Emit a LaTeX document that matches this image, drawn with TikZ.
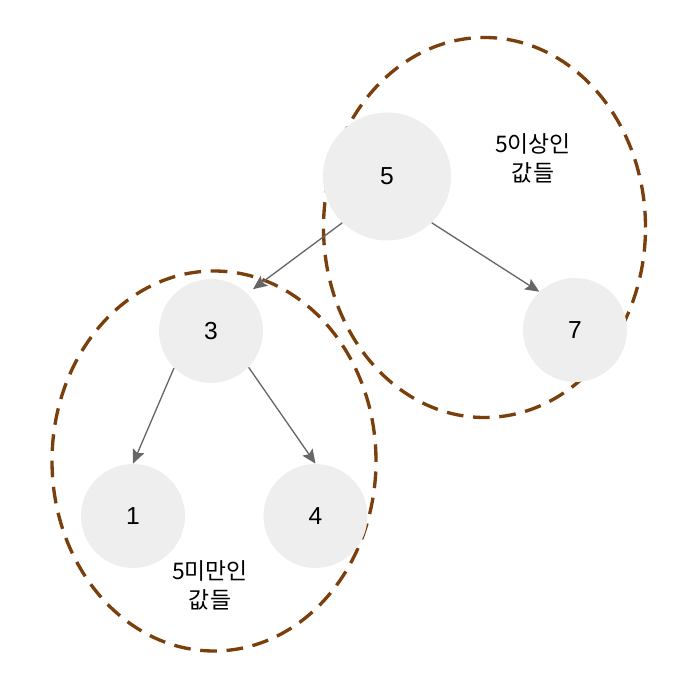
\documentclass[tikz,border=0pt]{standalone}
\usepackage{fontspec}
\setmainfont{Liberation Sans}
\newfontfamily\krfont{Noto Sans CJK KR}
\usepackage{xcolor}
\usetikzlibrary{arrows.meta, positioning}
\definecolor{C_NODE}{HTML}{EEEEEE}
\definecolor{C_EDGE}{HTML}{666666}
\definecolor{C_GRP} {HTML}{7B3F0C}
\tikzset{
  %% -- tree node --
  bst/key/.style={
    circle, fill=C_NODE, draw=none, inner sep=0pt,
    minimum size=2.08cm, font=\fontsize{14}{16}\selectfont
  },
  bst/root/.style={bst/key, minimum size=2.56cm},
  %% -- parent to child edge --
  bst/arr/.style={-{Stealth[length=8pt, width=7pt, inset=1.5pt]}, line width=0.75pt, color=C_EDGE},
  %% -- dashed grouping ring --
  bst/ring/.style={draw=C_GRP, line width=1.9pt, dash pattern=on 9.5pt off 5.5pt},
  %% -- group caption --
  bst/cap/.style={font=\krfont\fontsize{13}{16.5}\selectfont, align=center},
}
\begin{document}
\begin{tikzpicture}[x=0.02cm, y=0.02cm]
\useasboundingbox (0,0) rectangle (676,676);

%% Groups
\draw[bst/ring] (484.5, 448.5) ellipse [x radius=161, y radius=190];
\draw[bst/ring] (214, 215) ellipse [x radius=162, y radius=190];

%% Nodes
\node[bst/root] (n5) at (387, 499.5) {5};
\node[bst/key]  (n3) at (211, 345) {3};
\node[bst/key]  (n7) at (575, 346) {7};
\node[bst/key]  (n1) at (133, 160) {1};
\node[bst/key]  (n4) at (315.5, 160) {4};

\node[bst/cap] (capHigh) at (533, 518) {5이상인\\값들};
\node[bst/cap] (capLow)  at (210, 91)  {5미만인\\값들};

%% Edges
\draw[bst/arr, shorten >=4pt] (n5.226) -- (n3.46);
\draw[bst/arr] (n5.314) -- (n7.133);
\draw[bst/arr] (n3.225) -- (n1.90);
\draw[bst/arr] (n3.316) -- (n4.90);
\end{tikzpicture}
\end{document}
